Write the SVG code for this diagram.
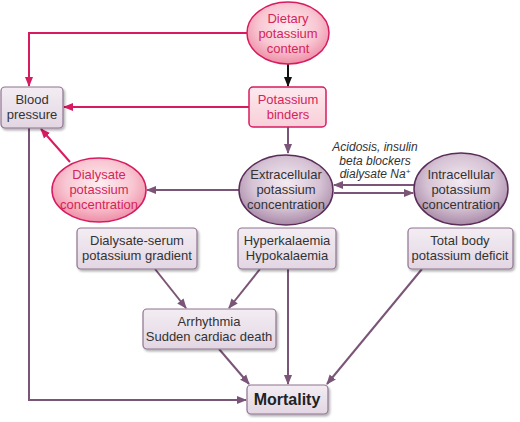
<svg xmlns="http://www.w3.org/2000/svg" width="520" height="422" viewBox="0 0 520 422">
<defs>
<radialGradient id="gPink" cx="50%" cy="40%" r="60%">
<stop offset="0" stop-color="#fdeef2"/>
<stop offset="0.6" stop-color="#f8c6d2"/>
<stop offset="1" stop-color="#ee8ea6"/>
</radialGradient>
<radialGradient id="gPurp" cx="50%" cy="40%" r="60%">
<stop offset="0" stop-color="#f3eaf2"/>
<stop offset="0.6" stop-color="#d6c3d5"/>
<stop offset="1" stop-color="#a98aa8"/>
</radialGradient>
<linearGradient id="gBox" x1="0" y1="0" x2="0" y2="1">
<stop offset="0" stop-color="#f3edf3"/>
<stop offset="1" stop-color="#e2d6e2"/>
</linearGradient>
<linearGradient id="gPinkBox" x1="0" y1="0" x2="0" y2="1">
<stop offset="0" stop-color="#fde9ee"/>
<stop offset="1" stop-color="#f8cfd9"/>
</linearGradient>
<filter id="sh" x="-10%" y="-10%" width="130%" height="140%">
<feDropShadow dx="1.5" dy="2" stdDeviation="1.2" flood-color="#000" flood-opacity="0.3"/>
</filter>
<marker id="aP" viewBox="0 0 10 10" refX="9" refY="5" markerWidth="5" markerHeight="5" orient="auto">
<path d="M0,1 L10,5 L0,9 z" fill="#d81b60"/>
</marker>
<marker id="aV" viewBox="0 0 10 10" refX="9" refY="5" markerWidth="5" markerHeight="5" orient="auto">
<path d="M0,1 L10,5 L0,9 z" fill="#7a5577"/>
</marker>
<marker id="aK" viewBox="0 0 10 10" refX="9" refY="5" markerWidth="5" markerHeight="5" orient="auto">
<path d="M0,1 L10,5 L0,9 z" fill="#111"/>
</marker>
</defs>
<style>
text { font-family: "Liberation Sans", Arial, sans-serif; font-size: 13px; text-anchor: middle; fill: #333; }
.pt { fill: #d6245a; }
.lbl { font-style: italic; font-size: 12px; fill: #333; }
.bold { font-weight: bold; font-size: 16px; fill: #222; }
.pinkE { fill: url(#gPink); stroke: #d81b60; stroke-width: 1.5; }
.purpE { fill: url(#gPurp); stroke: #5a2d58; stroke-width: 1.5; }
.box { fill: url(#gBox); stroke: #8e7390; stroke-width: 1.2; filter: url(#sh); }
.pbox { fill: url(#gPinkBox); stroke: #d81b60; stroke-width: 1.5; }
.cp { fill: none; stroke: #d81b60; stroke-width: 2; marker-end: url(#aP); }
.cv { fill: none; stroke: #7a5577; stroke-width: 2; marker-end: url(#aV); }
.ck { fill: none; stroke: #111; stroke-width: 2; marker-end: url(#aK); }
</style>

<g id="connectors">
<path class="cp" d="M247,33 H29 V86"/>
<path class="ck" d="M288,63 V86"/>
<path class="cp" d="M249,107 H64"/>
<path class="cv" d="M288,127 V153"/>
<path class="cp" d="M70,162 L41,129"/>
<path class="cv" d="M239,190 H147"/>
<path class="cv" d="M414,185 H334"/>
<path class="cv" d="M334,193 H413"/>
<path class="cv" d="M29,128 V400 H246"/>
<path class="cv" d="M155,269 L186,308"/>
<path class="cv" d="M260,269 L229,308"/>
<path class="cv" d="M288,269 V384"/>
<path class="cv" d="M219,349 L249,384"/>
<path class="cv" d="M422,269 L327,384"/>
<text class="lbl" x="375" y="151">Acidosis, insulin</text>
<text class="lbl" x="375" y="165">beta blockers</text>
<text class="lbl" x="375" y="178">dialysate Na<tspan font-size="8" dy="-4">+</tspan></text>
</g>

<g id="dietary">
<ellipse class="pinkE" cx="288" cy="33" rx="41" ry="31"/>
<text class="pt" x="288" y="23">Dietary</text>
<text class="pt" x="288" y="38">potassium</text>
<text class="pt" x="288" y="53">content</text>
</g>

<g id="binders">
<rect class="pbox" x="249" y="87" width="77" height="40" rx="4"/>
<text class="pt" x="288" y="104">Potassium</text>
<text class="pt" x="288" y="119">binders</text>
</g>

<g id="blood-pressure">
<rect class="box" x="1" y="87" width="62" height="41" rx="4"/>
<text x="32" y="104">Blood</text>
<text x="32" y="119">pressure</text>
</g>

<g id="dialysate-conc">
<ellipse class="pinkE" cx="99" cy="190" rx="47" ry="32"/>
<text class="pt" x="99" y="179">Dialysate</text>
<text class="pt" x="99" y="194">potassium</text>
<text class="pt" x="99" y="209">concentration</text>
</g>

<g id="extracellular">
<ellipse class="purpE" cx="286" cy="190" rx="47" ry="35"/>
<text x="286" y="179">Extracellular</text>
<text x="286" y="194">potassium</text>
<text x="286" y="209">concentration</text>
</g>

<g id="intracellular">
<ellipse class="purpE" cx="461" cy="189" rx="47" ry="36"/>
<text x="461" y="179">Intracellular</text>
<text x="461" y="194">potassium</text>
<text x="461" y="209">concentration</text>
</g>

<g id="gradient">
<rect class="box" x="77" y="228" width="120" height="41" rx="4"/>
<text x="137" y="245">Dialysate-serum</text>
<text x="137" y="260">potassium gradient</text>
</g>

<g id="kalaemia">
<rect class="box" x="238" y="228" width="98" height="41" rx="4"/>
<text x="287" y="245">Hyperkalaemia</text>
<text x="287" y="260">Hypokalaemia</text>
</g>

<g id="deficit">
<rect class="box" x="408" y="228" width="105" height="41" rx="4"/>
<text x="460" y="245">Total body</text>
<text x="460" y="260">potassium deficit</text>
</g>

<g id="arrhythmia">
<rect class="box" x="143" y="309" width="133" height="40" rx="4"/>
<text x="209" y="326">Arrhythmia</text>
<text x="209" y="341">Sudden cardiac death</text>
</g>

<g id="mortality">
<rect class="box" x="247" y="385" width="81" height="29" rx="4"/>
<text class="bold" x="287" y="405">Mortality</text>
</g>
</svg>
